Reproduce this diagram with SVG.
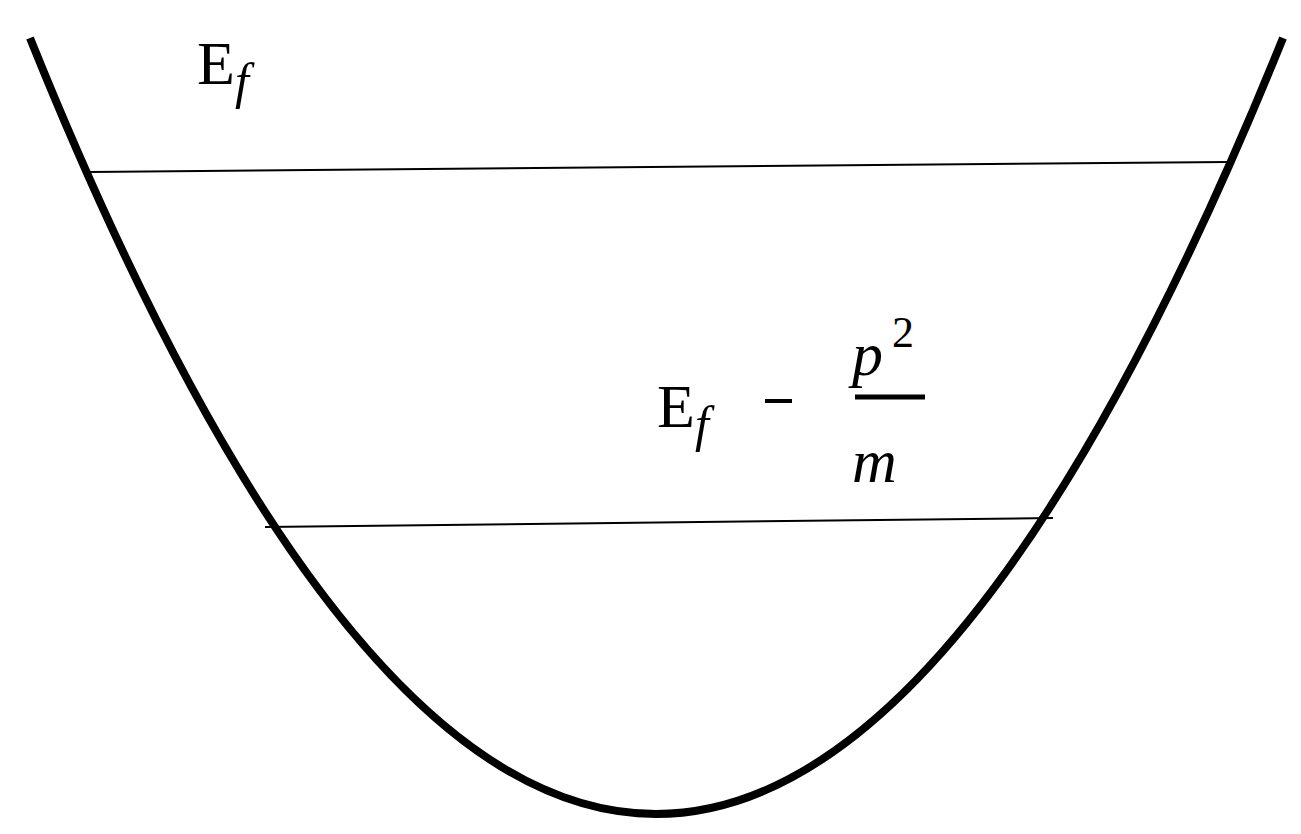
<svg xmlns="http://www.w3.org/2000/svg" width="1301" height="834" viewBox="0 0 1301 834">
<style>
.t{font-family:"Liberation Serif",serif;fill:#000}
.i{font-style:italic}
</style>
<rect width="1301" height="834" fill="#fff"/>
<g id="curve"><path d="M30,38 Q655,1590 1283,38" fill="none" stroke="#000" stroke-width="8"/></g>
<g id="levels" stroke="#000" stroke-width="2">
<line x1="90" y1="172" x2="1228" y2="162"/>
<line x1="265" y1="527" x2="1053" y2="518"/>
</g>
<g id="label1"><text class="t" x="197" y="84" font-size="62">E<tspan class="i" font-size="50" dy="14">f</tspan></text></g>
<g id="label2">
<text class="t" x="657" y="427" font-size="62">E<tspan class="i" font-size="50" dy="14">f</tspan></text>
<line x1="765" y1="401" x2="792" y2="401" stroke="#000" stroke-width="4"/>
<text class="t i" x="852" y="375" font-size="62">p</text>
<text class="t" x="892" y="347" font-size="44">2</text>
<line x1="855" y1="397" x2="925" y2="397" stroke="#000" stroke-width="5"/>
<text class="t i" x="852" y="482" font-size="62">m</text>
</g>
</svg>
